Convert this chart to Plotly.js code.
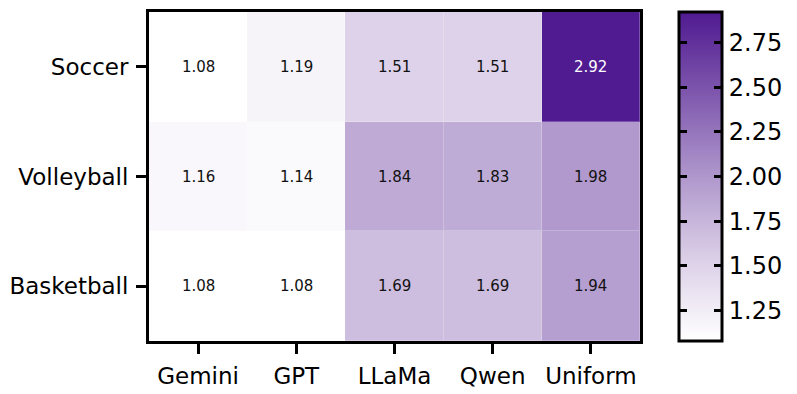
<!DOCTYPE html>
<html>
<head>
<meta charset="utf-8">
<script src="https://cdn.plot.ly/plotly-3.0.1.min.js"></script>
<style>
  body { margin: 0; background: #ffffff; }
  #chart { width: 797px; height: 394px; }
</style>
</head>
<body>
<div id="chart"></div>
<script>
const models = ['Gemini', 'GPT', 'LLaMa', 'Qwen', 'Uniform'];
const sports = ['Soccer', 'Volleyball', 'Basketball'];
const soccer = [1.08, 1.19, 1.51, 1.51, 2.92];
const volleyball = [1.16, 1.14, 1.84, 1.83, 1.98];
const basketball = [1.08, 1.08, 1.69, 1.69, 1.94];
const barTicks = [1.25, 1.5, 1.75, 2.0, 2.25, 2.5, 2.75];

const Z_MIN = 1.08;
const Z_MAX = 2.92;
const FONT = '"DejaVu Sans", Lato, sans-serif';

const PURPLES = [
  [0, '#ffffff'],
  [0.25, '#dbcfe7'],
  [0.5, '#af97cc'],
  [1, '#501a90']
];

const AXIS_STYLE = {
  showline: true,
  mirror: true,
  linewidth: 3,
  linecolor: '#000000',
  ticks: 'outside',
  ticklen: 10,
  tickwidth: 3,
  tickcolor: '#000000',
  showgrid: false,
  zeroline: false,
  tickfont: {family: FONT, size: 23, color: '#000000'}
};

const z = [soccer, volleyball, basketball];

// cell labels, white on the dark cell
let annotations = [];
for (let i = 0; i < sports.length; i++) {
  for (let j = 0; j < models.length; j++) {
    let v = z[i][j];
    annotations.push({
      x: models[j],
      y: sports[i],
      text: v.toFixed(2),
      showarrow: false,
      font: {family: FONT, size: 15, color: v > 2.5 ? '#ffffff' : '#111111'}
    });
  }
}

// colorbar ticks on both edges, as small black boxes (annotations sit above the colorbar)
const CB_X = 1.079;
const CB_W = 43 / 491;
barTicks.forEach(v => {
  let yy = (v - Z_MIN) / (Z_MAX - Z_MIN);
  [[CB_X, 'left'], [CB_X + CB_W, 'right']].forEach(([xx, anchor]) => {
    annotations.push({
      xref: 'paper', yref: 'paper',
      x: xx, y: yy,
      xanchor: anchor, yanchor: 'middle',
      text: ' ',
      font: {size: 1},
      width: 8, height: 3,
      borderpad: 0,
      borderwidth: 0,
      bgcolor: '#000000',
      showarrow: false
    });
  });
});

// faint cell borders: gapped heatmap over a faded copy
const underlay = {
  type: 'heatmap',
  x: models,
  y: sports,
  z: z,
  zmin: Z_MIN,
  zmax: Z_MAX,
  colorscale: PURPLES,
  opacity: 0.75,
  showscale: false,
  hoverinfo: 'skip'
};

const trace = {
  type: 'heatmap',
  x: models,
  y: sports,
  z: z,
  zmin: Z_MIN,
  zmax: Z_MAX,
  colorscale: PURPLES,
  xgap: 1,
  ygap: 1,
  hoverinfo: 'skip',
  colorbar: {
    x: CB_X,
    xanchor: 'left',
    xpad: 0,
    ypad: 0,
    y: 0.5,
    yanchor: 'middle',
    len: 1,
    lenmode: 'fraction',
    thickness: 43,
    thicknessmode: 'pixels',
    outlinewidth: 3,
    outlinecolor: '#000000',
    ticks: '',
    tickvals: barTicks,
    ticktext: barTicks.map(v => v.toFixed(2)),
    tickfont: {family: FONT, size: 24, color: '#000000'}
  }
};

const layout = {
  width: 797,
  height: 394,
  margin: {l: 149, r: 157, t: 12, b: 53},
  paper_bgcolor: '#ffffff',
  plot_bgcolor: '#ffffff',
  font: {family: FONT, color: '#000000'},
  xaxis: Object.assign({}, AXIS_STYLE, {ticklabelstandoff: 2}),
  yaxis: Object.assign({}, AXIS_STYLE, {autorange: 'reversed', ticklabelstandoff: 3}),
  annotations: annotations
};

Plotly.newPlot('chart', [underlay, trace], layout, {displayModeBar: false, staticPlot: true});
</script>
</body>
</html>
